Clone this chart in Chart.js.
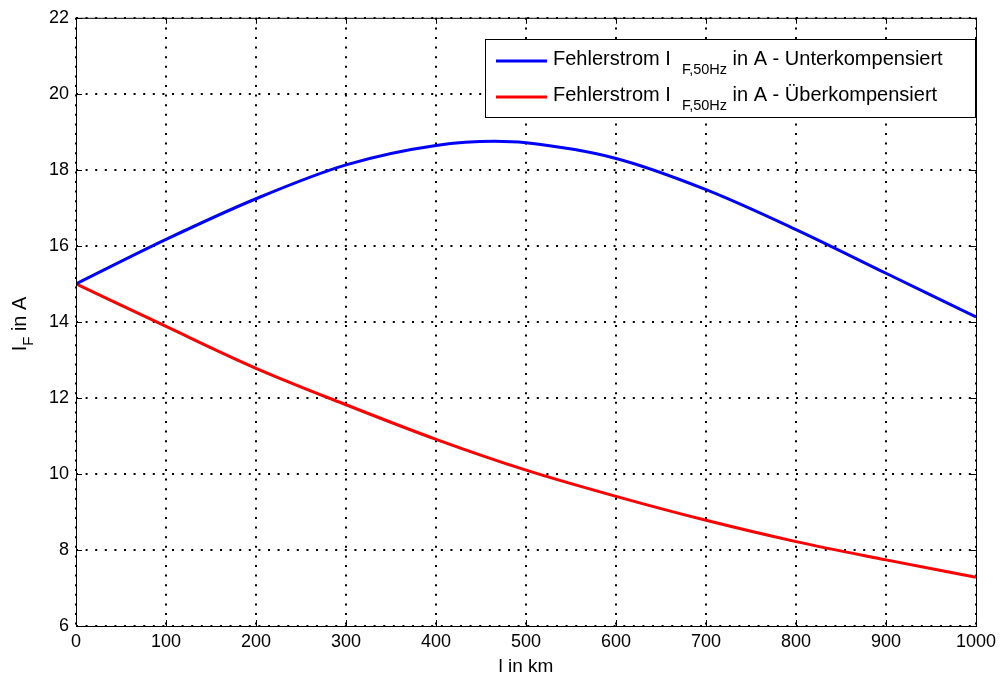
<!DOCTYPE html>
<html>
<head>
<meta charset="utf-8">
<script src="https://cdn.jsdelivr.net/npm/chart.js@4/dist/chart.umd.min.js"></script>
<style>
  html, body { margin: 0; padding: 0; background: #fff; }
  #wrap { width: 1001px; height: 677px; }
</style>
</head>
<body>
<div id="wrap"><canvas id="faultChart" width="1001" height="677"></canvas></div>
<script>
// line length l in km and fault current in A
const lengthKm = [0, 100, 200, 300, 400, 465, 500, 600, 700, 800, 900, 1000];
const currentUnder = [15.0, 16.17, 17.24, 18.13, 18.64, 18.75, 18.71, 18.30, 17.48, 16.43, 15.28, 14.13];
const lengthKmOver = [0, 100, 200, 300, 400, 500, 600, 700, 800, 900, 1000];
const currentOver = [15.0, 13.88, 12.78, 11.82, 10.91, 10.10, 9.41, 8.78, 8.22, 7.74, 7.28];

const xTicks = [0, 100, 200, 300, 400, 500, 600, 700, 800, 900, 1000];
const yTicks = [6, 8, 10, 12, 14, 16, 18, 20, 22];

const legendRows = [
  { color: '#0000ff', pre: 'Fehlerstrom I  ', sub: 'F,50Hz', post: ' in A - Unterkompensiert' },
  { color: '#ff0000', pre: 'Fehlerstrom I  ', sub: 'F,50Hz', post: ' in A - Überkompensiert' }
];

const FONT = '"Liberation Sans", Arial, Helvetica, sans-serif';

function toPoints(xs, ys) {
  return xs.map((x, i) => ({ x: x, y: ys[i] }));
}

// text with a lowered subscript part, drawn left to right from x
function drawSubText(ctx, x, y, pre, sub, post, size, subSize, drop) {
  ctx.font = size + 'px ' + FONT;
  ctx.fillText(pre, x, y);
  x += ctx.measureText(pre).width;
  ctx.font = subSize + 'px ' + FONT;
  ctx.fillText(sub, x, y + drop);
  x += ctx.measureText(sub).width;
  ctx.font = size + 'px ' + FONT;
  ctx.fillText(post, x, y);
}

function subTextWidth(ctx, pre, sub, post, size, subSize) {
  ctx.font = size + 'px ' + FONT;
  let w = ctx.measureText(pre).width + ctx.measureText(post).width;
  ctx.font = subSize + 'px ' + FONT;
  return w + ctx.measureText(sub).width;
}

// box, inner ticks, axis titles and legend in the matlab style
const frame = {
  id: 'frame',
  afterDraw(chart) {
    const ctx = chart.ctx;
    const a = chart.chartArea;
    const xs = chart.scales.x, ys = chart.scales.y;
    ctx.save();
    ctx.strokeStyle = '#000';
    ctx.lineWidth = 1;
    ctx.strokeRect(a.left + 0.5, a.top + 0.5, a.right - a.left, a.bottom - a.top);

    const tl = 6;
    ctx.beginPath();
    xTicks.forEach(v => {
      const px = Math.round(xs.getPixelForValue(v)) + 0.5;
      ctx.moveTo(px, a.bottom); ctx.lineTo(px, a.bottom - tl);
      ctx.moveTo(px, a.top); ctx.lineTo(px, a.top + tl);
    });
    yTicks.forEach(v => {
      const py = Math.round(ys.getPixelForValue(v)) + 0.5;
      ctx.moveTo(a.left, py); ctx.lineTo(a.left + tl, py);
      ctx.moveTo(a.right, py); ctx.lineTo(a.right - tl, py);
    });
    ctx.stroke();

    ctx.fillStyle = '#000';
    ctx.textBaseline = 'alphabetic';
    ctx.textAlign = 'left';

    // x title
    ctx.font = '19px ' + FONT;
    const xt = 'l in km';
    ctx.fillText(xt, (a.left + a.right) / 2 - ctx.measureText(xt).width / 2, 672);

    // y title, rotated
    ctx.save();
    ctx.translate(26, 324);
    ctx.rotate(-Math.PI / 2);
    const yw = subTextWidth(ctx, 'I', 'F', ' in A', 20, 15);
    drawSubText(ctx, -yw / 2, 0, 'I', 'F', ' in A', 20, 15, 7);
    ctx.restore();

    // legend
    const lx = 485.5, ly = 39.5, lw = 490, lh = 78;
    ctx.fillStyle = '#fff';
    ctx.fillRect(lx, ly, lw, lh);
    ctx.strokeRect(lx, ly, lw, lh);
    legendRows.forEach((row, i) => {
      const cy = 61 + i * 36;
      ctx.strokeStyle = row.color;
      ctx.lineWidth = 3;
      ctx.beginPath();
      ctx.moveTo(496, cy);
      ctx.lineTo(547, cy);
      ctx.stroke();
      ctx.fillStyle = '#000';
      drawSubText(ctx, 553, cy + 4, row.pre, row.sub, row.post, 20, 14.5, 9);
    });
    ctx.restore();
  }
};

new Chart(document.getElementById('faultChart'), {
  type: 'line',
  data: {
    datasets: [
      {
        label: 'Unterkompensiert',
        data: toPoints(lengthKm, currentUnder),
        borderColor: '#0000ff',
        borderWidth: 3,
        pointRadius: 0,
        cubicInterpolationMode: 'monotone',
        fill: false
      },
      {
        label: 'Überkompensiert',
        data: toPoints(lengthKmOver, currentOver),
        borderColor: '#ff0000',
        borderWidth: 3,
        pointRadius: 0,
        cubicInterpolationMode: 'monotone',
        fill: false
      }
    ]
  },
  options: {
    responsive: false,
    animation: false,
    devicePixelRatio: 1,
    layout: { padding: { top: 12, right: 24, left: 0, bottom: 0 } },
    plugins: {
      legend: { display: false },
      tooltip: { enabled: false }
    },
    scales: {
      x: {
        type: 'linear',
        min: 0,
        max: 1000,
        afterFit: s => { s.height = 51; },
        afterBuildTicks: s => { s.ticks = xTicks.map(v => ({ value: v })); },
        ticks: {
          color: '#000', font: { family: FONT, size: 18 }, padding: 5, maxRotation: 0,
          callback: v => String(v)
        },
        grid: { color: '#000', lineWidth: 2, drawTicks: false },
        border: { display: false, dash: [2, 7.6] }
      },
      y: {
        min: 6,
        max: 22,
        afterFit: s => { s.width = 76; },
        afterBuildTicks: s => { s.ticks = yTicks.map(v => ({ value: v })); },
        ticks: { color: '#000', font: { family: FONT, size: 18 }, padding: 7 },
        grid: { color: '#000', lineWidth: 2, drawTicks: false },
        border: { display: false, dash: [2, 7.6] }
      }
    }
  },
  plugins: [frame]
});
</script>
</body>
</html>
